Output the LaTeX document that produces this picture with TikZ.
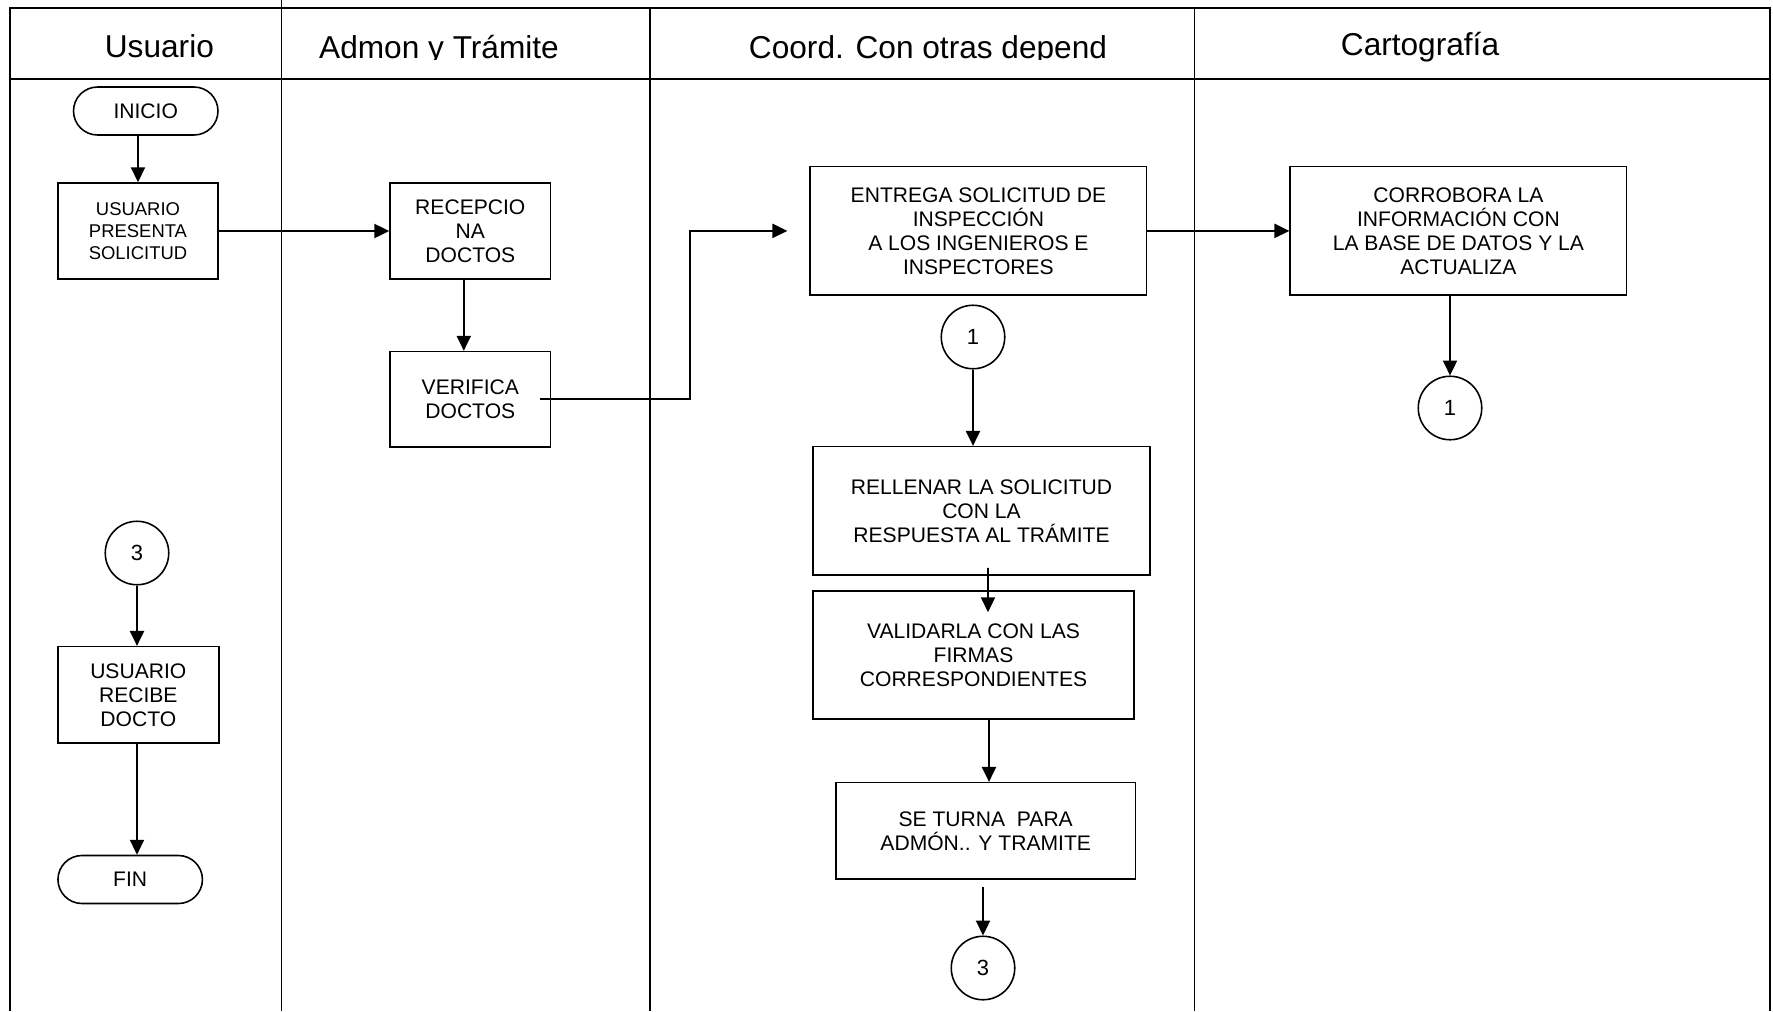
\documentclass[tikz,border=0pt]{standalone}
\usepackage{fontspec}
\setmainfont{Liberation Sans}
\usetikzlibrary{arrows.meta,positioning}
\tikzset{
    %Define standard arrow tip
    >={Triangle[length=8.5pt,width=8pt]},
    %Define style for boxes
    caja/.style={
           rectangle,
           draw=black, line width=0.9pt,
           inner sep=0pt,
           align=center,
           font=\fontsize{12}{13.7}\selectfont},
    termino/.style={
           caja,
           rounded corners=0.48cm,
           minimum width=2.89cm,
           minimum height=0.96cm},
    conector/.style={
           circle,
           draw=black, line width=0.9pt,
           inner sep=0pt,
           minimum size=1.27cm,
           font=\fontsize{12.5}{14}\selectfont},
    % Define arrow style
    flecha/.style={
           ->,
           line width=1.1pt},
    carril/.style={line width=1pt},
    titulo/.style={anchor=base, inner sep=0pt, font=\fontsize{18}{20}\selectfont}
}

\begin{document}
\begin{tikzpicture}[x=0.02cm,y=-0.02cm]
\useasboundingbox (0,0) rectangle (1773,1011);

 %lanes
\draw[carril] (10,1011) -- (10,8) -- (1770,8) -- (1770,1011);
\draw[carril] (10,79) -- (1770,79);
\draw[carril] (281.5,0) -- (281.5,1011);
\draw[carril] (650,8) -- (650,1011);
\draw[carril] (1194.5,8) -- (1194.5,1011);

 %lane titles
\node[titulo] (u) at (159.4,57.4) {Usuario};
\begin{scope}
\clip (283,10) rectangle (1193,59);
\node[titulo] (a) at (439,58.4) {Admon y Trámite};
\node[titulo] (c) at (928,58.4) {Coord. Con otras depend};
\end{scope}
\node[titulo] (k) at (1420,55) {Cartografía};

 %nodes
\node[termino] (1) at (145.75,111) {INICIO};
\node[caja, minimum width=3.21cm, minimum height=1.92cm, font=\fontsize{10.5}{12.5}\selectfont] (2) at (138,231) {USUARIO\\PRESENTA\\SOLICITUD};
\node[caja, minimum width=3.21cm, minimum height=1.92cm] (3) at (470.3,231) {RECEPCIO\\NA\\DOCTOS};
\node[caja, minimum width=3.21cm, minimum height=1.91cm] (4) at (470.3,399.3) {VERIFICA\\DOCTOS};
\node[caja, minimum width=6.73cm, minimum height=2.57cm] (5) at (978.4,230.9) {ENTREGA SOLICITUD DE\\INSPECCIÓN\\A LOS INGENIEROS E\\INSPECTORES};
\node[caja, minimum width=6.73cm, minimum height=2.57cm] (6) at (1458.4,230.9) {CORROBORA LA\\INFORMACIÓN CON\\LA BASE DE DATOS Y LA\\ACTUALIZA};
\node[conector] (7) at (1450,408) {1};
\node[conector] (8) at (973,337) {1};
\node[caja, minimum width=6.74cm, minimum height=2.57cm] (9) at (981.5,510.9) {RELLENAR LA SOLICITUD\\CON LA\\RESPUESTA AL TRÁMITE};
\node[caja, minimum width=6.42cm, minimum height=2.56cm] (10) at (973.5,655) {VALIDARLA CON LAS\\FIRMAS\\CORRESPONDIENTES};
\node[caja, minimum width=6cm, minimum height=1.93cm] (11) at (985.7,830.9) {SE TURNA\ \ PARA\\ADMÓN.. Y TRAMITE};
\node[conector] (12) at (983,968) {3};
\node[conector] (13) at (137,553) {3};
\node[caja, minimum width=3.22cm, minimum height=1.93cm] (14) at (138.3,694.9) {USUARIO\\RECIBE\\DOCTO};
\node[termino] (15) at (130.2,879.5) {FIN};

 %arrows
\draw[flecha] (2 |- 1.south) -- (2.north);
\draw[flecha] (2.east) -- (3.west);
\draw[flecha] ([xshift=-0.13cm]3.south) -- ([xshift=-0.13cm]4.north);
\draw[flecha] ([xshift=-0.23cm]4.east) -- ++(150,0) |- ([xshift=-0.44cm]5.west);
\draw[flecha] (5.east) -- (6.west);
\draw[flecha] (7 |- 6.south) -- (7.north);
\draw[flecha] (8.south) -- (8 |- 9.north);
\draw[flecha] ([xshift=0.13cm,yshift=0.16cm]9.south) -- ([xshift=0.29cm,yshift=-0.44cm]10.north);
\draw[flecha] ([xshift=0.31cm]10.south) -- ([xshift=0.31cm]10.south |- 11.north);
\draw[flecha] ([yshift=-0.15cm]12 |- 11.south) -- (12.north);
\draw[flecha] (13.south) -- (13 |- 14.north);
\draw[flecha] (13 |- 14.south) -- (13 |- 15.north);
\end{tikzpicture}
\end{document}
